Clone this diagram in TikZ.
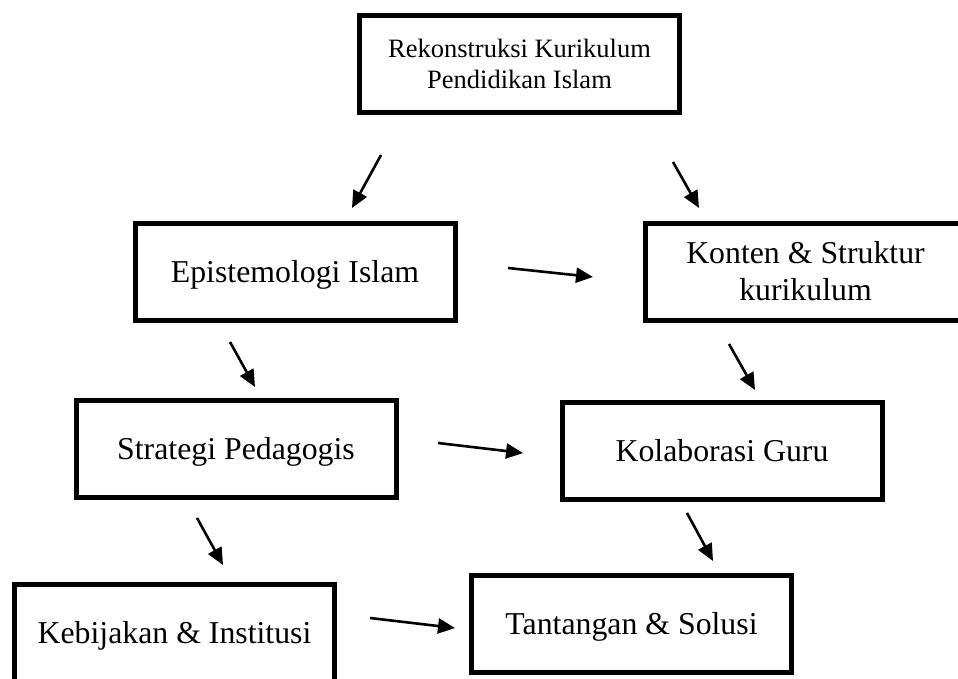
\documentclass[tikz,border=0pt]{standalone}
\usepackage{fontspec}
\setmainfont{Liberation Serif}
\usetikzlibrary{arrows.meta}
\begin{document}
\begin{tikzpicture}[x=1pt,y=-1pt,
  box/.style={draw=black, line width=5pt, rectangle, minimum width=320pt, minimum height=97pt,
    inner sep=0pt, align=center, font=\fontsize{31.8pt}{37pt}\selectfont},
  onebox/.style={box, text height=21pt, text depth=0pt},
  topbox/.style={box, font=\fontsize{26.5pt}{31pt}\selectfont},
  arr/.style={line width=2.6pt, -{Triangle[length=17pt,width=15pt]}}]
\useasboundingbox[fill=white] (0,0) rectangle (958,679);
\node[topbox] (b1) at (519.5,64) {Rekonstruksi Kurikulum\\Pendidikan Islam};
\node[onebox] (b2) at (295,272) {Epistemologi Islam};
\node[box] (b3) at (805.5,271.5) {Konten \& Struktur\\kurikulum};
\node[onebox] (b4) at (236,448.5) {Strategi Pedagogis};
\node[onebox] (b5) at (722,451) {Kolaborasi Guru};
\node[onebox] (b6) at (174.5,633) {Kebijakan \& Institusi};
\node[onebox] (b7) at (631.5,624) {Tantangan \& Solusi};
\coordinate (a1s) at (381,155); \coordinate (a1e) at (352,208);
\coordinate (a2s) at (673,162); \coordinate (a2e) at (699,208);
\coordinate (a3s) at (508,268); \coordinate (a3e) at (593,277);
\coordinate (a4s) at (230,342); \coordinate (a4e) at (255,387);
\coordinate (a5s) at (729,344); \coordinate (a5e) at (755,390);
\coordinate (a6s) at (438,443); \coordinate (a6e) at (523,453);
\coordinate (a7s) at (197,518); \coordinate (a7e) at (223,565);
\coordinate (a8s) at (687,513); \coordinate (a8e) at (713,561);
\coordinate (a9s) at (370,618); \coordinate (a9e) at (455,628);
\draw[arr] (a1s) -- (a1e);
\draw[arr] (a2s) -- (a2e);
\draw[arr] (a3s) -- (a3e);
\draw[arr] (a4s) -- (a4e);
\draw[arr] (a5s) -- (a5e);
\draw[arr] (a6s) -- (a6e);
\draw[arr] (a7s) -- (a7e);
\draw[arr] (a8s) -- (a8e);
\draw[arr] (a9s) -- (a9e);
\end{tikzpicture}
\end{document}
